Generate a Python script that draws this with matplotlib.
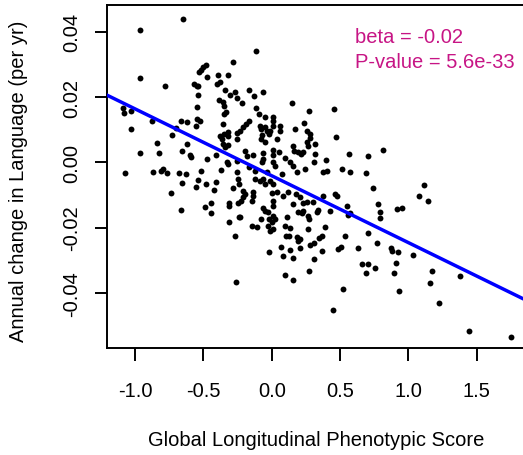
import matplotlib
matplotlib.use('Agg')
import matplotlib.pyplot as plt
import numpy as np

plt.rcParams['font.family'] = ['Liberation Sans', 'DejaVu Sans']
plt.rcParams['axes.unicode_minus'] = False

# global longitudinal phenotypic score per subject
x_score = [
    -0.647, -0.963, -0.281, -0.481, -0.500, -0.519, -0.532, -0.475, -0.963, -0.391,
    -0.317, -0.781, -0.566, -0.549, -0.537, -0.402, -0.378, -0.342, -0.541, -0.305,
    -0.268, -0.256, -0.383, -0.358, -0.349, -0.549, -0.334, -0.349, -1.086, -1.080,
    -1.029, -0.549, -0.524, -0.554, -0.663, -0.617, -0.878, -0.702, -1.029, -0.354,
    -0.729, -0.378, -0.349, -0.322, -0.317, -0.366, -0.252, -0.256, -0.841, -0.622,
    -0.358, -0.317, -0.342, -0.963, -0.824, -0.658, -0.598, -0.593, -0.471, -0.407,
    -0.329, -0.317, -0.373, -0.256, -1.073, -0.866, -0.810, -0.793, -0.768, -0.676,
    -0.627, -0.519, -0.256, -0.658, -0.541, -0.481, -0.410, -0.739, -0.554, -0.420,
    -0.281, -0.244, -0.237, -0.663, -0.488, -0.444, -0.444, -0.312, -0.310, -0.244,
    -0.312, -0.268, -0.237, -0.263, -0.117, -0.166, -0.127, -0.061, -0.215, -0.117,
    0.146, 0.275, 0.458, -0.091, -0.049, 0.007, -0.164, -0.188, -0.208, -0.232,
    -0.086, -0.078, -0.049, -0.037, -0.018, -0.012, -0.073, -0.080, 0.012, 0.007,
    0.061, 0.061, 0.037, -0.049, 0.236, 0.170, 0.256, 0.280, 0.280, 0.260,
    0.263, 0.317, 0.470, 0.154, 0.163, -0.195, -0.183, -0.135, -0.061, -0.061,
    -0.073, 0.007, 0.007, 0.056, 0.195, 0.214, 0.227, 0.317, 0.012, 0.024,
    0.097, 0.134, 0.158, 0.309, 0.397, 0.565, 0.702, -0.164, -0.122, -0.037,
    0.073, 0.183, 0.244, 0.377, 0.402, 0.512, 0.573, 0.690, -0.122, -0.086,
    -0.061, -0.049, -0.012, 0.012, -0.212, -0.195, -0.208, -0.227, -0.139, -0.135,
    -0.146, 0.000, 0.012, 0.007, 0.037, 0.085, 0.121, 0.158, 0.178, 0.207,
    0.227, 0.256, 0.304, 0.341, 0.334, 0.373, 0.426, 0.463, 0.475, 0.549,
    0.560, 0.573, -0.232, -0.061, -0.049, -0.025, -0.018, 0.012, 0.024, 0.000,
    -0.025, -0.012, 0.012, -0.080, -0.146, -0.110, 0.110, 0.097, 0.134, 0.195,
    0.219, 0.231, 0.268, 0.273, 0.263, 0.105, 0.129, 0.183, 0.195, 0.207,
    0.280, 0.312, 0.348, 0.366, 0.390, 0.536, 0.707, -0.018, 0.066, 0.085,
    0.134, 0.154, 0.207, 0.312, 0.370, 0.487, 0.505, 0.633, 0.658, 0.688,
    0.707, 0.275, 0.097, 0.154, 0.524, 0.446, 0.812, 0.743, 0.775, 0.792,
    0.792, 0.919, 0.955, 1.080, 1.116, 1.146, 0.772, 0.873, 0.878, 0.922,
    1.031, 0.756, 0.909, 0.895, 0.933, 1.170, 1.156, 1.224, 1.380, 1.445,
    1.751,
]

# annual change in language score (per year)
y_change = [
    0.0439, 0.0405, 0.0308, 0.0298, 0.0291, 0.0283, 0.0278, 0.0262, 0.0259, 0.0267,
    0.0267, 0.0234, 0.0240, 0.0233, 0.0233, 0.0240, 0.0245, 0.0222, 0.0207, 0.0206,
    0.0216, 0.0196, 0.0191, 0.0184, 0.0173, 0.0170, 0.0153, 0.0148, 0.0168, 0.0151,
    0.0157, 0.0133, 0.0127, 0.0112, 0.0127, 0.0123, 0.0127, 0.0105, 0.0102, 0.0117,
    0.0084, 0.0081, 0.0087, 0.0094, 0.0081, 0.0071, 0.0090, 0.0071, 0.0059, 0.0055,
    0.0055, 0.0054, 0.0046, 0.0029, 0.0029, 0.0036, 0.0022, 0.0015, 0.0010, 0.0023,
    0.0000, -0.0005, -0.0023, 0.0003, -0.0034, -0.0029, -0.0026, -0.0021, -0.0033, -0.0033,
    -0.0036, -0.0026, -0.0031, -0.0063, -0.0053, -0.0066, -0.0061, -0.0094, -0.0075, -0.0085,
    -0.0079, -0.0051, -0.0066, -0.0147, -0.0138, -0.0126, -0.0156, -0.0125, -0.0133, -0.0123,
    -0.0182, -0.0225, -0.0167, -0.0366, 0.0340, 0.0222, 0.0204, 0.0216, 0.0182, 0.0168,
    0.0181, 0.0158, 0.0163, 0.0148, 0.0138, 0.0138, 0.0127, 0.0117, 0.0107, 0.0097,
    0.0112, 0.0102, 0.0107, 0.0097, 0.0087, 0.0097, 0.0084, 0.0071, 0.0127, 0.0112,
    0.0112, 0.0097, 0.0071, 0.0061, 0.0120, 0.0102, 0.0097, 0.0087, 0.0074, 0.0061,
    0.0051, 0.0056, 0.0078, 0.0051, 0.0036, 0.0036, 0.0020, 0.0022, 0.0028, 0.0010,
    0.0002, 0.0039, 0.0022, 0.0031, 0.0031, 0.0025, 0.0031, 0.0025, 0.0000, -0.0010,
    0.0012, 0.0002, -0.0010, 0.0000, 0.0007, 0.0025, 0.0020, -0.0015, -0.0026, -0.0031,
    -0.0036, -0.0031, -0.0021, -0.0029, -0.0026, -0.0021, -0.0031, -0.0033, -0.0051, -0.0056,
    -0.0051, -0.0066, -0.0056, -0.0066, -0.0087, -0.0097, -0.0107, -0.0118, -0.0092, -0.0102,
    -0.0118, -0.0094, -0.0118, -0.0133, -0.0092, -0.0102, -0.0090, -0.0128, -0.0097, -0.0107,
    -0.0123, -0.0121, -0.0121, -0.0145, -0.0153, -0.0102, -0.0148, -0.0097, -0.0104, -0.0135,
    -0.0161, -0.0155, -0.0168, -0.0141, -0.0148, -0.0153, -0.0174, -0.0164, -0.0174, -0.0184,
    -0.0196, -0.0210, -0.0204, -0.0174, -0.0196, -0.0199, -0.0168, -0.0194, -0.0202, -0.0151,
    -0.0155, -0.0148, -0.0164, -0.0174, -0.0204, -0.0225, -0.0227, -0.0230, -0.0240, -0.0235,
    -0.0253, -0.0247, -0.0233, -0.0225, -0.0199, -0.0225, -0.0217, -0.0276, -0.0260, -0.0286,
    -0.0268, -0.0294, -0.0263, -0.0296, -0.0271, -0.0266, -0.0260, -0.0263, -0.0312, -0.0339,
    -0.0312, -0.0332, -0.0345, -0.0360, -0.0388, -0.0452, 0.0039, -0.0079, -0.0128, -0.0151,
    -0.0172, -0.0143, -0.0141, -0.0104, -0.0069, -0.0118, -0.0247, -0.0263, -0.0271, -0.0274,
    -0.0284, -0.0323, -0.0308, -0.0339, -0.0395, -0.0334, -0.0371, -0.0430, -0.0347, -0.0517,
    -0.0534,
]

fit_intercept = -0.0041
fit_slope = -0.0205
beta_text = "beta = -0.02"
pval_text = "P-value = 5.6e-33"

x_ticks = [-1.0, -0.5, 0.0, 0.5, 1.0, 1.5]
y_ticks = [-0.04, -0.02, 0.00, 0.02, 0.04]

fig = plt.figure(figsize=(5.23, 4.56), dpi=100)
ax = fig.add_axes([0.2046, 0.2346, 0.80, 0.752])

ax.scatter(x_score, y_change, s=18, c='black', linewidths=0, zorder=3)
ax.axline((0, fit_intercept), slope=fit_slope, color='#0000FF', lw=2.5, zorder=4)

ax.text(0.609, 0.03675, beta_text, color='#C71585', fontsize=14.5, va='baseline', ha='left')
ax.text(0.609, 0.02924, pval_text, color='#C71585', fontsize=14.5, va='baseline', ha='left')

ax.set_xlim(-1.205, 1.856)
ax.set_ylim(-0.0569, 0.0482)
ax.set_xticks(x_ticks)
ax.set_xticklabels(['%.1f' % v for v in x_ticks])
ax.set_yticks(y_ticks)
ax.set_yticklabels(['%.2f' % v for v in y_ticks], rotation=90, va='center')

ax.tick_params(axis='both', direction='out', length=9, width=1.4, labelsize=14.5)
ax.tick_params(axis='x', pad=14.5)
ax.tick_params(axis='y', pad=9.5)
for sp in ax.spines.values():
    sp.set_linewidth(1.4)

ax.set_xlabel('Global Longitudinal Phenotypic Score', fontsize=14.5)
ax.set_ylabel('Annual change in Language (per yr)', fontsize=14.5)
ax.xaxis.set_label_coords(0.501, -0.24)
ax.yaxis.set_label_coords(-0.189, 0.49)

fig.savefig('out.png', dpi=100)
